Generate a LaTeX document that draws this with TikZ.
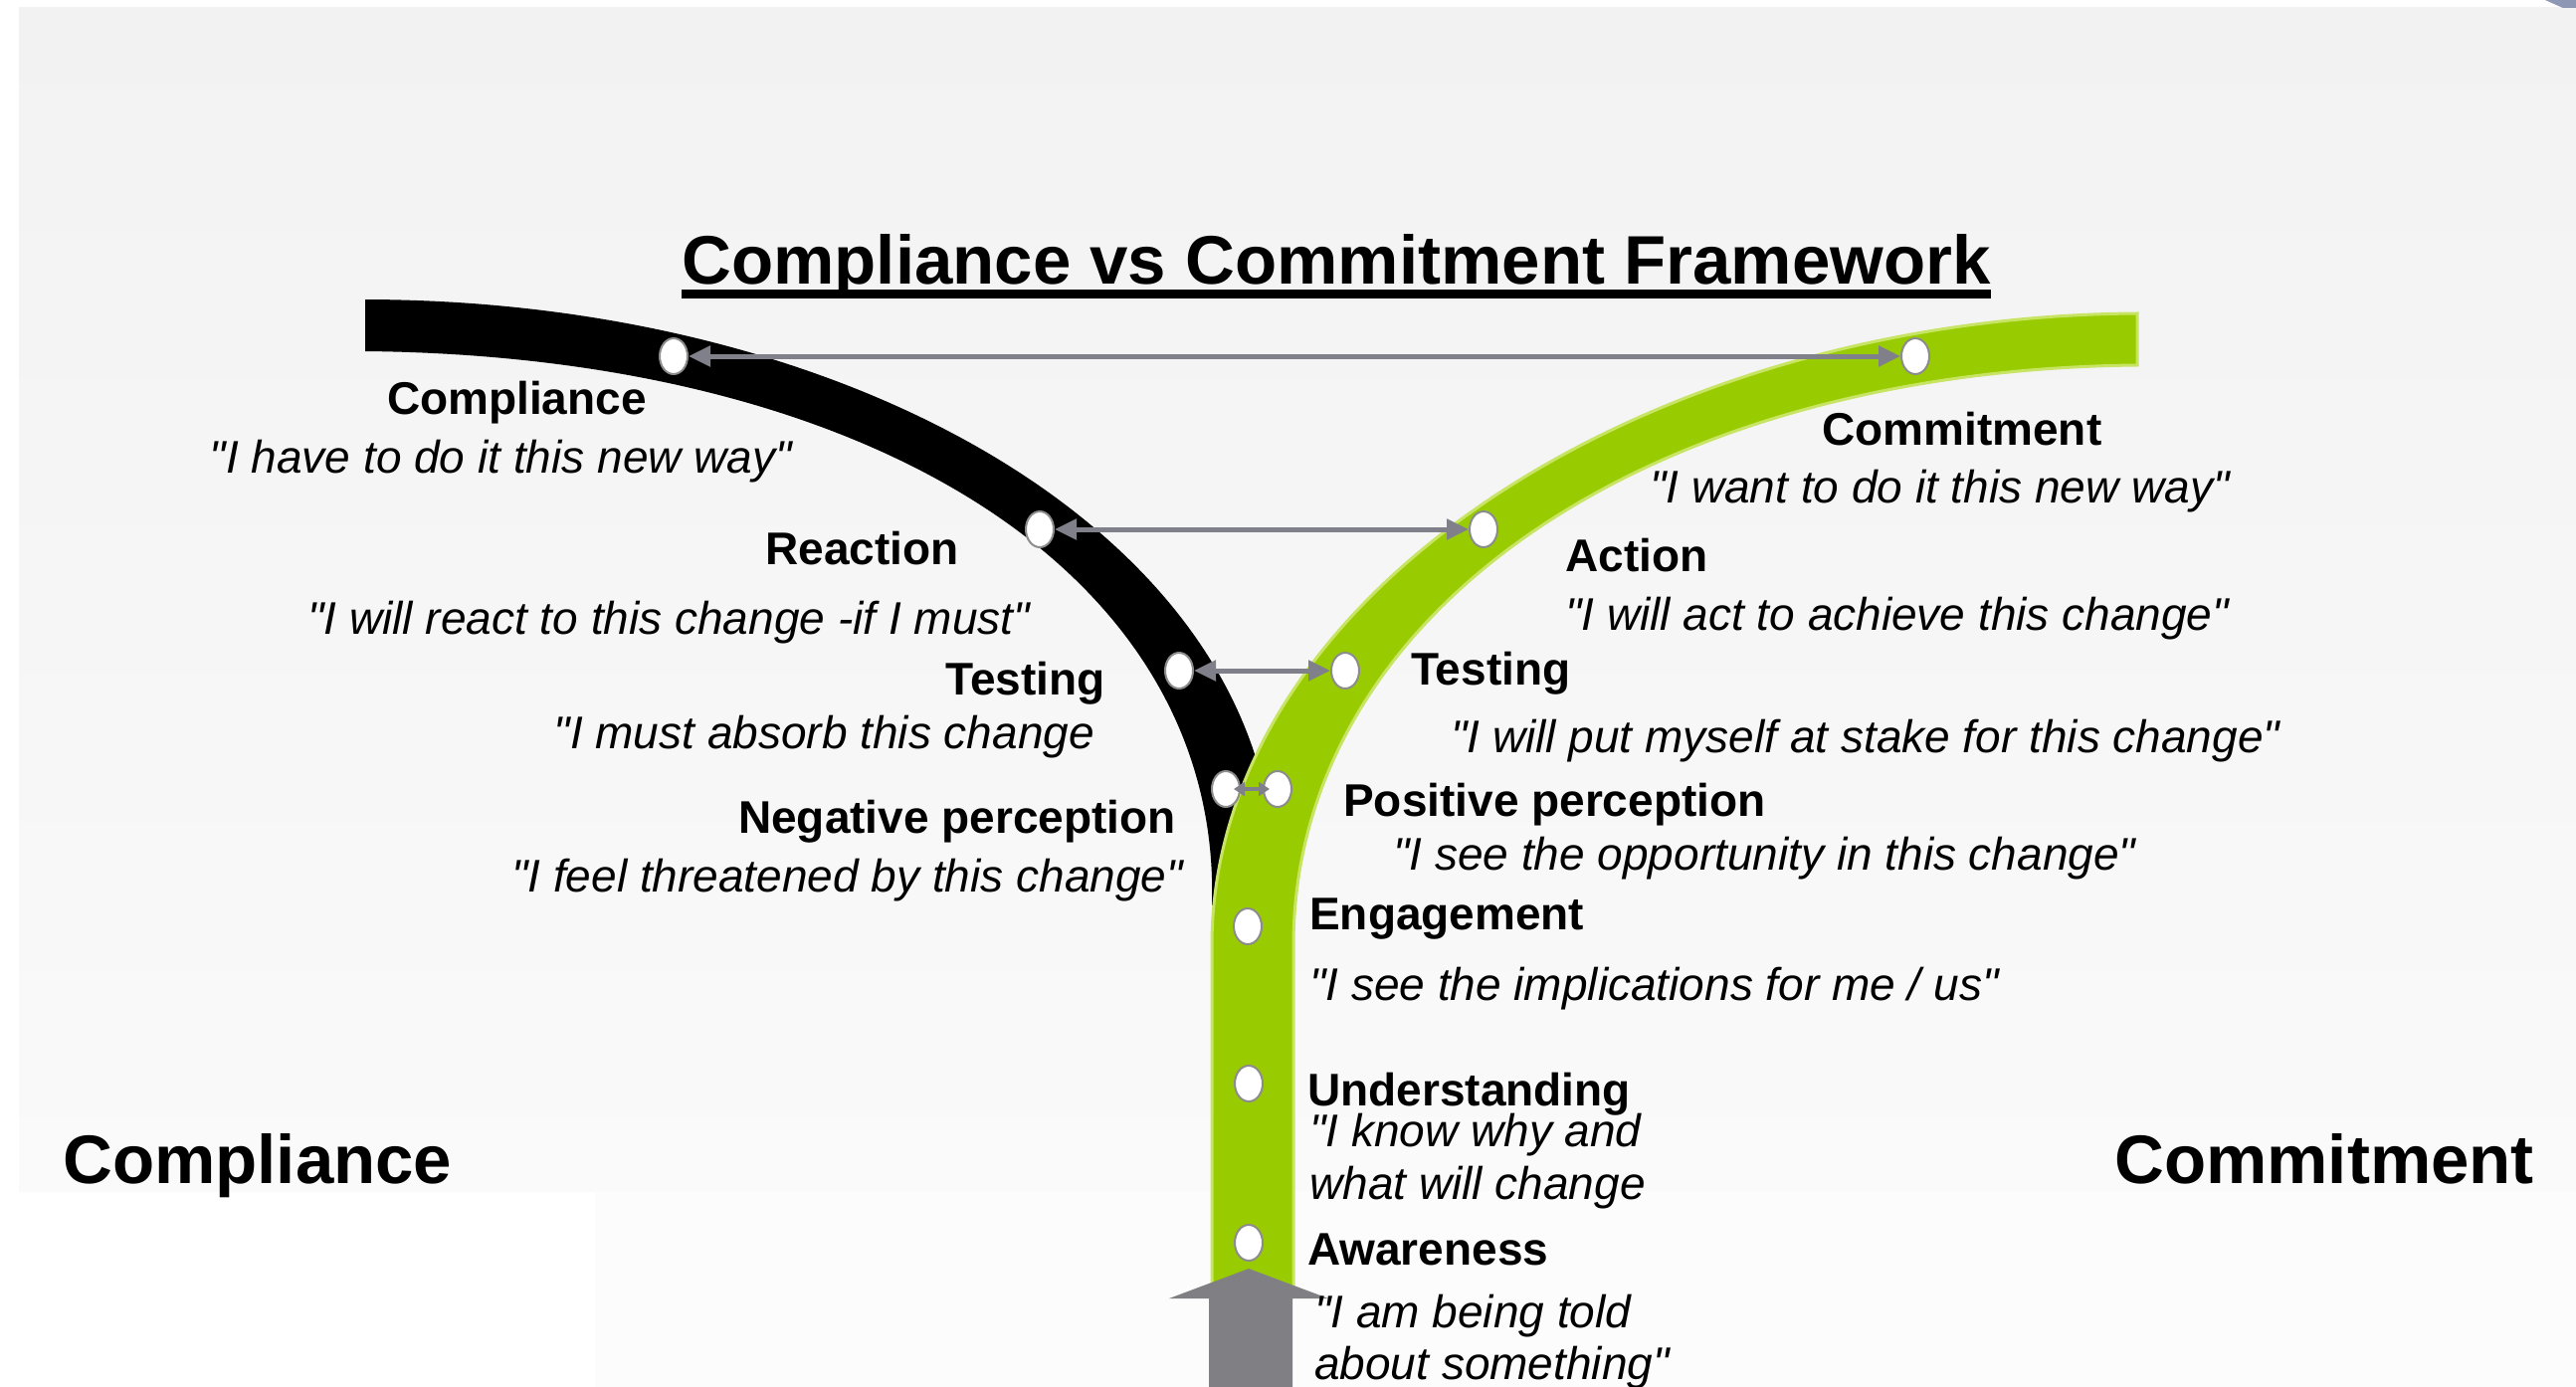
\documentclass[tikz,border=0pt]{standalone}
\usepackage{fontspec}
\setmainfont{Liberation Sans}[Ligatures=TeXOff]
\usetikzlibrary{shapes.geometric,arrows.meta}
\definecolor{bggray}{RGB}{242,242,242}
\definecolor{bglight}{RGB}{250,250,250}
\definecolor{bgbottom}{RGB}{252,252,252}
\definecolor{ygreen}{RGB}{153,204,0}
\definecolor{greenedge}{RGB}{200,228,100}
\definecolor{conngray}{RGB}{128,128,138}
\definecolor{arrowgray}{RGB}{128,128,132}
\definecolor{cornerblue}{RGB}{142,152,181}
\definecolor{dotedge}{RGB}{140,140,140}
\begin{document}
\begin{tikzpicture}[x=1pt,y=-1pt,
  lblL/.style={font={\fontsize{46}{54}\selectfont\bfseries}, inner sep=0pt, anchor=base east},
  quoteL/.style={font={\fontsize{46}{54}\selectfont\itshape}, inner sep=0pt, anchor=base east},
  lblR/.style={font={\fontsize{46}{54}\selectfont\bfseries}, inner sep=0pt, anchor=base west},
  quoteR/.style={font={\fontsize{46}{54}\selectfont\itshape}, inner sep=0pt, anchor=base west},
  biglbl/.style={font={\fontsize{69}{80}\selectfont\bfseries}, inner sep=0pt, anchor=base west},
  titletxt/.style={font={\fontsize{69}{80}\selectfont\bfseries}, inner sep=0pt, anchor=base},
  stopdot/.style={ellipse, draw=dotedge, line width=2pt, fill=white, minimum width=28pt, minimum height=36pt, inner sep=0pt},
  conn/.style={draw=conngray, line width=5pt, {Triangle[length=22pt,width=20pt]}-{Triangle[length=22pt,width=20pt]}},
  connsmall/.style={draw=conngray, line width=4pt, shorten <=-7pt, shorten >=-7pt, {Triangle[length=11pt,width=14pt]}-{Triangle[length=11pt,width=14pt]}}
]
\useasboundingbox (0,0) rectangle (2589,1394);
% background
\fill[white] (0,0) rectangle (2589,1394);
\shade[top color=bggray, bottom color=bglight] (19,8) rectangle (2589,1197);
\fill[bgbottom] (598,1197) rectangle (2589,1394);
\fill[cornerblue] (2558,0) -- (2589,0) -- (2589,8) -- (2576,8) -- cycle;

% black (compliance) band
\fill[black] (367,301) .. controls (880,302) and (1298,560) .. (1280,902)
  -- (1218,910) .. controls (1228,580) and (880,358) .. (367,353) -- cycle;

% green (commitment) band
\fill[ygreen, draw=greenedge, line width=3pt] (2148,315) .. controls (1650,318) and (1218,600) .. (1218,950)
  -- (1218,1300) -- (1300,1300) -- (1300,950) .. controls (1300,620) and (1650,372) .. (2148,367) -- cycle;

% bottom arrow
\fill[arrowgray] (1215,1394) -- (1215,1305) -- (1175,1305) -- (1255,1275) -- (1335,1305)
  -- (1299,1305) -- (1299,1394) -- cycle;

% stage dots
\node[stopdot] (bC) at (677,358) {};
\node[stopdot] (bR) at (1045,532) {};
\node[stopdot] (bT) at (1185,674) {};
\node[stopdot] (bN) at (1232,793) {};
\node[stopdot] (gC) at (1925,358) {};
\node[stopdot] (gA) at (1491,532) {};
\node[stopdot] (gT) at (1352,674) {};
\node[stopdot] (gP) at (1284,793) {};
\node[stopdot] (gE) at (1254,931) {};
\node[stopdot] (gU) at (1255,1089) {};
\node[stopdot] (gW) at (1255,1249) {};

% connectors
\draw[conn] (bC) -- (gC);
\draw[conn] (bR) -- (gA);
\draw[conn] (bT) -- (gT);
\draw[connsmall] (bN) -- (gP);

% title
\node[titletxt] (title) at (1343,285) {Compliance vs Commitment Framework};
\fill ([yshift=-6pt]title.base west) rectangle ([yshift=-15pt]title.base east);

% left labels
\node[lblL] (tCompl) at (650,416) {Compliance};
\node[quoteL] (qCompl) at (796,475) {"I have to do it this new way"};
\node[lblL] (tReact) at (964,567) {Reaction};
\node[quoteL] (qReact) at (1035,637) {"I will react to this change -if I must"};
\node[lblL] (tTestL) at (1111,698) {Testing};
\node[quoteL] (qTestL) at (1100,752) {"I must absorb this change};
\node[lblL] (tNeg) at (1182,837) {Negative perception};
\node[quoteL] (qNeg) at (1189,896) {"I feel threatened by this change"};

% right labels
\node[lblR] (tCommit) at (1831,447) {Commitment};
\node[quoteR] (qCommit) at (1658,505) {"I want to do it this new way"};
\node[lblR] (tAction) at (1573,574) {Action};
\node[quoteR] (qAction) at (1573,633) {"I will act to achieve this change"};
\node[lblR] (tTestR) at (1418,688) {Testing};
\node[quoteR] (qTestR) at (1458,756) {"I will put myself at stake for this change"};
\node[lblR] (tPos) at (1350,820) {Positive perception};
\node[quoteR] (qPos) at (1400,874) {"I see the opportunity in this change"};
\node[lblR] (tEng) at (1316,934) {Engagement};
\node[quoteR] (qEng) at (1316,1005) {"I see the implications for me / us"};
\node[lblR] (tUnd) at (1314,1111) {Understanding};
\node[quoteR] (qUnd1) at (1316,1152) {"I know why and};
\node[quoteR] (qUnd2) at (1316,1205) {what will change};
\node[lblR] (tAw) at (1314,1271) {Awareness};
\node[quoteR] (qAw1) at (1321,1334) {"I am being told};
\node[quoteR] (qAw2) at (1321,1386) {about something"};

% big side labels
\node[biglbl] (bigCompl) at (63,1189) {Compliance};
\node[biglbl] (bigCommit) at (2125,1189) {Commitment};
\end{tikzpicture}
\end{document}
